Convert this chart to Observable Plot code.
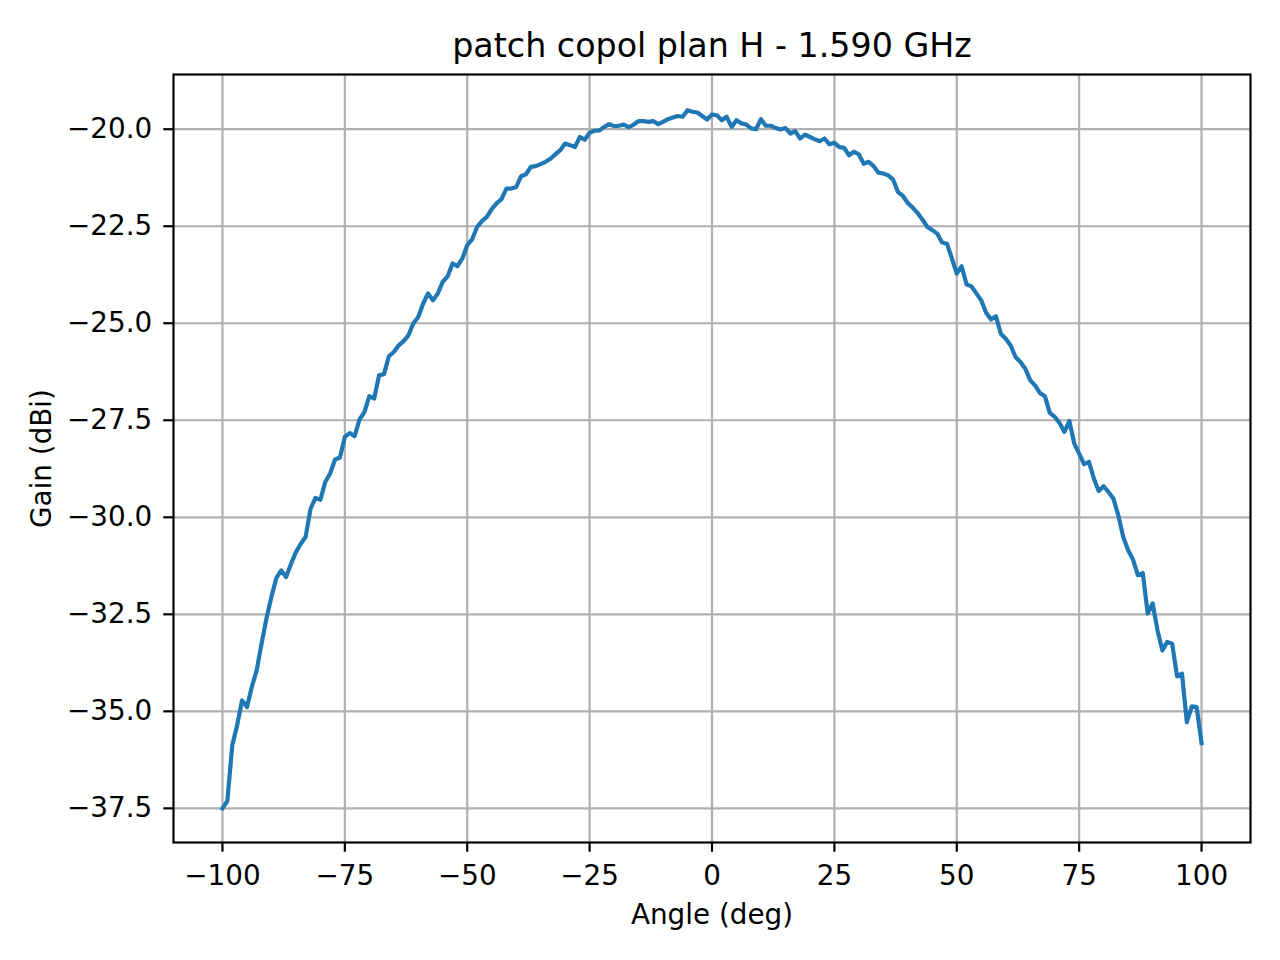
<!DOCTYPE html>
<html><head><meta charset="utf-8">
<script src="https://cdn.jsdelivr.net/npm/d3@7"></script>
<script src="https://cdn.jsdelivr.net/npm/@observablehq/plot@0.6"></script>
<style>html,body{margin:0;padding:0;background:#fff;} #chart svg{display:block}</style>
</head><body><div id="chart"></div>
<script>
const title = "patch copol plan H - 1.590 GHz";
const xLabel = "Angle (deg)";
const yLabel = "Gain (dBi)";
const xTicks = [-100, -75, -50, -25, 0, 25, 50, 75, 100];
const yTicks = [-37.5, -35, -32.5, -30, -27.5, -25, -22.5, -20];

const angles = [
  -100, -99, -98, -97, -96, -95, -94, -93, -92, -91,
  -90, -89, -88, -87, -86, -85, -84, -83, -82, -81,
  -80, -79, -78, -77, -76, -75, -74, -73, -72, -71,
  -70, -69, -68, -67, -66, -65, -64, -63, -62, -61,
  -60, -59, -58, -57, -56, -55, -54, -53, -52, -51,
  -50, -49, -48, -47, -46, -45, -44, -43, -42, -41,
  -40, -39, -38, -37, -36, -35, -34, -33, -32, -31,
  -30, -29, -28, -27, -26, -25, -24, -23, -22, -21,
  -20, -19, -18, -17, -16, -15, -14, -13, -12, -11,
  -10, -9, -8, -7, -6, -5, -4, -3, -2, -1,
  0, 1, 2, 3, 4, 5, 6, 7, 8, 9,
  10, 11, 12, 13, 14, 15, 16, 17, 18, 19,
  20, 21, 22, 23, 24, 25, 26, 27, 28, 29,
  30, 31, 32, 33, 34, 35, 36, 37, 38, 39,
  40, 41, 42, 43, 44, 45, 46, 47, 48, 49,
  50, 51, 52, 53, 54, 55, 56, 57, 58, 59,
  60, 61, 62, 63, 64, 65, 66, 67, 68, 69,
  70, 71, 72, 73, 74, 75, 76, 77, 78, 79,
  80, 81, 82, 83, 84, 85, 86, 87, 88, 89,
  90, 91, 92, 93, 94, 95, 96, 97, 98, 99,
  100
];

const gain = [
  -37.50, -37.31, -35.88, -35.36, -34.72, -34.89, -34.37, -33.94, -33.25, -32.60,
  -32.05, -31.57, -31.37, -31.54, -31.20, -30.90, -30.68, -30.50, -29.78, -29.50,
  -29.55, -29.09, -28.87, -28.51, -28.46, -27.93, -27.83, -27.91, -27.48, -27.29,
  -26.88, -26.94, -26.34, -26.31, -25.85, -25.74, -25.57, -25.46, -25.31, -25.00,
  -24.84, -24.49, -24.23, -24.41, -24.23, -23.93, -23.79, -23.46, -23.53, -23.33,
  -22.99, -22.84, -22.52, -22.37, -22.26, -22.06, -21.91, -21.80, -21.53, -21.53,
  -21.49, -21.21, -21.16, -20.97, -20.95, -20.90, -20.84, -20.76, -20.65, -20.54,
  -20.37, -20.41, -20.46, -20.20, -20.27, -20.09, -20.04, -20.03, -19.94, -19.87,
  -19.92, -19.91, -19.88, -19.95, -19.88, -19.79, -19.79, -19.81, -19.79, -19.87,
  -19.81, -19.74, -19.70, -19.66, -19.68, -19.51, -19.55, -19.57, -19.66, -19.75,
  -19.62, -19.64, -19.77, -19.68, -19.94, -19.77, -19.85, -19.88, -19.98, -20.00,
  -19.74, -19.91, -19.91, -19.97, -20.01, -19.97, -20.11, -20.05, -20.24, -20.14,
  -20.20, -20.26, -20.31, -20.24, -20.39, -20.35, -20.46, -20.48, -20.67, -20.58,
  -20.65, -20.89, -20.84, -20.95, -21.12, -21.14, -21.19, -21.30, -21.62, -21.72,
  -21.90, -22.02, -22.16, -22.33, -22.52, -22.60, -22.69, -22.92, -22.95, -23.33,
  -23.72, -23.53, -24.00, -24.05, -24.23, -24.41, -24.73, -24.90, -24.82, -25.27,
  -25.40, -25.57, -25.87, -26.00, -26.17, -26.47, -26.60, -26.80, -26.88, -27.31,
  -27.41, -27.57, -27.80, -27.52, -28.10, -28.36, -28.63, -28.57, -29.00, -29.32,
  -29.20, -29.35, -29.52, -29.95, -30.51, -30.85, -31.09, -31.49, -31.44, -32.48,
  -32.22, -32.91, -33.43, -33.21, -33.26, -34.10, -34.03, -35.28, -34.87, -34.89,
  -35.82
];

const data = angles.map((a, i) => ({angle: a, gain: gain[i]}));
const font = "DejaVu Sans";
const gridStyle = {stroke: "#b0b0b0", strokeOpacity: 1, strokeWidth: 2.2};

const chart = Plot.plot({
  width: 1280,
  height: 960,
  marginLeft: 173,
  marginRight: 30,
  marginTop: 74,
  marginBottom: 118,
  style: {fontFamily: font, background: "#fff", color: "#000", overflow: "visible"},
  x: {domain: [-110, 110]},
  y: {domain: [-38.38, -18.59]},
  marks: [
    Plot.gridX(xTicks, gridStyle),
    Plot.gridY(yTicks, gridStyle),
    Plot.line(data, {x: "angle", y: "gain", stroke: "#1f77b4", strokeWidth: 4.2, strokeLinejoin: "round", strokeLinecap: "square"}),
    Plot.frame({stroke: "#000", strokeWidth: 2.2}),
    Plot.axisX(xTicks, {tickSize: 9.7, tickPadding: 12.6, fontSize: 27.8, fontFamily: font, tickFormat: d3.format("d"), label: null, strokeWidth: 2.2, stroke: "#000"}),
    Plot.axisY(yTicks, {tickSize: 9.7, tickPadding: 11.6, fontSize: 27.8, fontFamily: font, tickFormat: d3.format(".1f"), label: null, strokeWidth: 2.2, stroke: "#000"}),
    Plot.text([title], {text: d => d, frameAnchor: "top", textAnchor: "middle", dy: -17.3, lineAnchor: "bottom", fontSize: 33.3, fontFamily: font, fill: "#000"}),
    Plot.text([xLabel], {text: d => d, frameAnchor: "bottom", textAnchor: "middle", dy: 81, lineAnchor: "bottom", fontSize: 27.8, fontFamily: font, fill: "#000"}),
    Plot.text([yLabel], {text: d => d, frameAnchor: "left", textAnchor: "middle", dx: -122.5, rotate: -90, lineAnchor: "bottom", fontSize: 27.8, fontFamily: font, fill: "#000"})
  ]
});
document.getElementById("chart").appendChild(chart);
</script>
</body></html>
